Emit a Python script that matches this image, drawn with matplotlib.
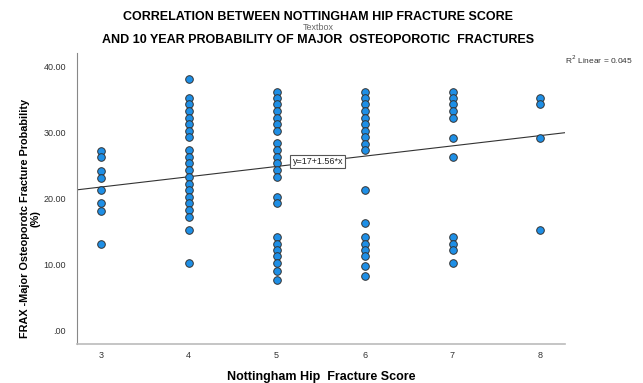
#!/usr/bin/env python3
"""
Scatter of FRAX major osteoporotic fracture probability against
Nottingham Hip Fracture Score, with a linear fit line.
"""
import numpy as np
import matplotlib
matplotlib.use("Agg")
import matplotlib.pyplot as plt

plt.rcParams['font.family'] = ['Liberation Sans', 'DejaVu Sans']

# FRAX probability (%) for each Nottingham score
score_3 = [27.2, 26.2, 24.1, 23.1, 21.2, 19.2, 18.1, 13.1]
score_4 = [38.1, 35.2, 34.2, 33.2, 32.2, 31.2, 30.2, 29.2, 27.3, 26.3, 25.3,
           24.2, 23.2, 22.2, 21.2, 20.2, 19.2, 18.2, 17.2, 15.2, 10.2]
score_5 = [36.1, 35.2, 34.2, 33.2, 32.2, 31.2, 30.2, 28.3, 27.3, 26.3, 25.3,
           24.2, 23.2, 20.2, 19.2, 14.1, 13.1, 12.1, 11.2, 10.2, 8.9, 7.6]
score_6 = [36.1, 35.2, 34.2, 33.2, 32.2, 31.2, 30.2, 29.2, 28.2, 27.3, 21.2,
           16.2, 14.1, 13.1, 12.1, 11.2, 9.7, 8.2]
score_7 = [36.1, 35.2, 34.2, 33.2, 32.2, 29.1, 26.2, 14.1, 13.1, 12.1, 10.2]
score_8 = [35.2, 34.2, 29.1, 15.2]

scores = [3, 4, 5, 6, 7, 8]
groups = [score_3, score_4, score_5, score_6, score_7, score_8]

# Linear fit reported on the chart
intercept = 17
slope = 1.56
r_squared = 0.045

fig = plt.figure(figsize=(6.43, 3.83), dpi=100)
ax = fig.add_axes([0.1198, 0.1018, 0.759, 0.760])

xs = np.concatenate([[s] * len(g) for s, g in zip(scores, groups)])
ys = np.concatenate(groups)
ax.scatter(xs, ys, s=30, color='#1E8FE6', edgecolors='#333333',
           linewidths=0.7, zorder=3)

xlim = (2.73, 8.28)
ax.set_xlim(*xlim)
ax.set_ylim(-2.1, 42)

fit_x = np.array(xlim)
ax.plot(fit_x, intercept + slope * fit_x, color='#333333', linewidth=0.8,
        zorder=2)

ax.text(5.47, intercept + slope * 5.47, f"y={intercept}+{slope}*x",
        fontsize=6.5, color='#222222', ha='center', va='center', zorder=4,
        bbox=dict(boxstyle='square,pad=0.25', facecolor='white',
                  edgecolor='#555555', linewidth=0.8))

ax.set_xticks(scores)
ax.set_xticklabels([str(s) for s in scores])
ax.set_yticks([0, 10, 20, 30, 40])
ax.set_yticklabels(['.00', '10.00', '20.00', '30.00', '40.00'])
ax.tick_params(axis='both', length=0, labelsize=6.5, colors='#333333')
ax.tick_params(axis='x', pad=5)
ax.tick_params(axis='y', pad=8)

for side in ['top', 'right']:
    ax.spines[side].set_visible(False)
ax.spines['left'].set_color('#888888')
ax.spines['left'].set_linewidth(0.8)
ax.spines['bottom'].set_color('#bbbbbb')
ax.spines['bottom'].set_linewidth(1.2)

ax.set_xlabel('Nottingham Hip  Fracture Score', fontsize=9, fontweight='bold',
              labelpad=8)
ax.set_ylabel('FRAX -Major Osteoporotc Fracture Probability\n(%)',
              fontsize=7.8, fontweight='bold', linespacing=1.0)
ax.yaxis.set_label_coords(-0.075, 0.43)

fig.text(0.495, 0.955, 'CORRELATION BETWEEN NOTTINGHAM HIP FRACTURE SCORE',
         ha='center', va='center', fontsize=9, fontweight='bold')
fig.text(0.495, 0.928, 'Textbox', ha='center', va='center', fontsize=6.5,
         color='#666666')
fig.text(0.495, 0.895,
         'AND 10 YEAR PROBABILITY OF MAJOR  OSTEOPOROTIC  FRACTURES',
         ha='center', va='center', fontsize=9, fontweight='bold')
fig.text(0.984, 0.845, f'R$^2$ Linear = {r_squared}', ha='right',
         va='center', fontsize=6, color='#333333')

fig.savefig('out.png', dpi=100)
